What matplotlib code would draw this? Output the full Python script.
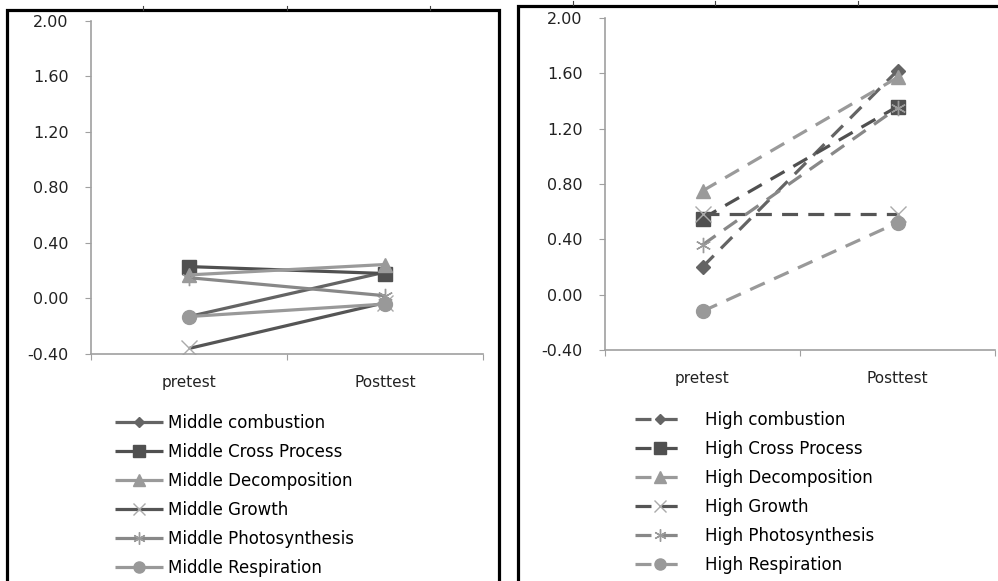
import matplotlib
matplotlib.use('Agg')
import matplotlib.pyplot as plt
from matplotlib.lines import Line2D
from matplotlib.patches import Rectangle

W, H = 998, 581

categories = ['pretest', 'Posttest']
topics = ['combustion', 'Cross Process', 'Decomposition', 'Growth',
          'Photosynthesis', 'Respiration']

middle_pre = [-0.13, 0.23, 0.17, -0.36, 0.15, -0.13]
middle_post = [0.19, 0.18, 0.245, -0.03, 0.02, -0.04]

high_pre = [0.20, 0.55, 0.75, 0.58, 0.36, -0.12]
high_post = [1.62, 1.36, 1.57, 0.58, 1.35, 0.52]

yticks = [-0.40, 0.00, 0.40, 0.80, 1.20, 1.60, 2.00]

# grey versions of the default office palette
colors = ['#646464', '#505050', '#9a9a9a', '#555555', '#888888', '#999999']
markers = ['D', 's', '^', 'x', (6, 2, 0), 'o']
msizes = [7, 10, 10, 11, 11, 10]
medge = [None, None, None, '#aaaaaa', '#9a9a9a', None]

plt.rcParams['font.family'] = 'DejaVu Sans'


def px_rect(left, top, right, bottom):
    return [left / W, 1 - bottom / H, (right - left) / W, (bottom - top) / H]


def draw_panel(fig, rect, pre, post, dashed):
    ax = fig.add_axes(rect)
    for i in range(len(topics)):
        kw = dict(color=colors[i], lw=2.3, marker=markers[i], ms=msizes[i],
                  markeredgewidth=1.0, solid_capstyle='butt')
        kw['markeredgecolor'] = medge[i] or colors[i]
        if dashed:
            kw['dashes'] = (5.0, 3.2)
        ax.plot([0.5, 1.5], [pre[i], post[i]], **kw)

    ax.set_xlim(0, 2)
    ax.set_ylim(-0.40, 2.00)
    ax.set_yticks(yticks)
    ax.set_yticklabels(['%.2f' % v for v in yticks])
    ax.set_xticks([0, 1, 2])
    ax.set_xticklabels([])
    ax.set_xticks([0.5, 1.5], minor=True)
    ax.set_xticklabels(categories, minor=True)
    ax.tick_params(axis='x', which='major', length=4, color='#a0a0a0',
                   direction='out')
    ax.tick_params(axis='x', which='minor', length=0, pad=15, labelsize=11,
                   labelcolor='#222222')
    ax.tick_params(axis='y', length=4, color='#a0a0a0', pad=12,
                   labelsize=11.5, labelcolor='#222222')
    for s in ['top', 'right']:
        ax.spines[s].set_visible(False)
    for s in ['left', 'bottom']:
        ax.spines[s].set_color('#a0a0a0')
        ax.spines[s].set_linewidth(1.2)
    ax.patch.set_alpha(0)
    return ax


fig = plt.figure(figsize=(W / 100, H / 100), dpi=100)

# panel frames
fig.patches.append(Rectangle((6.5 / W, -0.05), (499 - 6.5) / W,
                             1.05 - 10.5 / H, transform=fig.transFigure,
                             fill=False, lw=2.3, ec='black'))
fig.patches.append(Rectangle((518 / W, -0.05), 1.0, 1.05 - 6 / H,
                             transform=fig.transFigure, fill=False, lw=2.3,
                             ec='black'))
for x in [143, 287, 430]:
    fig.add_artist(Line2D([x / W, x / W], [1 - 6 / H, 1 - 10 / H],
                          color='#444444', lw=0.8))
for x in [573, 715, 858]:
    fig.add_artist(Line2D([x / W, x / W], [1 - 1 / H, 1 - 5 / H],
                          color='#444444', lw=0.8))

ax1 = draw_panel(fig, px_rect(91, 21, 483, 354), middle_pre, middle_post,
                 dashed=False)
ax2 = draw_panel(fig, px_rect(605, 18, 995, 350), high_pre, high_post,
                 dashed=True)

fig.legend(ax1.get_lines(), ['Middle ' + t for t in topics], loc='upper left',
           bbox_to_anchor=(115 / W, 1 - 414 / H), frameon=False,
           borderpad=0, borderaxespad=0, handlelength=2.9,
           handletextpad=0.3, labelspacing=0.66, fontsize=12,
           markerscale=0.8)
fig.legend(ax2.get_lines(), ['High ' + t for t in topics], loc='upper left',
           bbox_to_anchor=(635 / W, 1 - 411 / H), frameon=False,
           borderpad=0, borderaxespad=0, handlelength=3.0,
           handletextpad=1.2, labelspacing=0.66, fontsize=12,
           markerscale=0.8)

fig.savefig('out.png', dpi=100)
